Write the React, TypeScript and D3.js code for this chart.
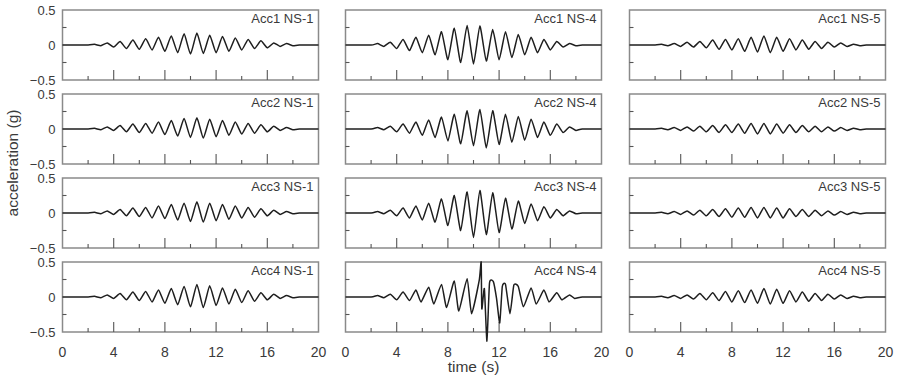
import React, { useEffect, useRef } from "react";
import * as d3 from "d3";

// shared sample times (s): flat start, peak / trough every half second, flat end
const TIME = [
  0, 2, 2.5, 3, 3.5, 4, 4.5, 5, 5.5, 6, 6.5, 7, 7.5, 8, 8.5, 9, 9.5, 10, 10.5,
  11, 11.5, 12, 12.5, 13, 13.5, 14, 14.5, 15, 15.5, 16, 16.5, 17, 17.5, 18,
  18.5, 20,
];

const acc1Ns1 = [0, 0, 0.01, -0.01, 0.03, -0.03, 0.05, -0.05, 0.07, -0.06, 0.09, -0.07, 0.11, -0.09, 0.13, -0.11, 0.16, -0.13, 0.17, -0.12, 0.14, -0.11, 0.12, -0.09, 0.1, -0.07, 0.08, -0.05, 0.06, -0.04, 0.03, -0.02, 0.02, -0.01, 0, 0];
const acc2Ns1 = [0, 0, 0.01, -0.01, 0.03, -0.02, 0.05, -0.04, 0.07, -0.05, 0.08, -0.06, 0.1, -0.08, 0.12, -0.1, 0.15, -0.12, 0.16, -0.13, 0.14, -0.11, 0.12, -0.09, 0.1, -0.07, 0.08, -0.06, 0.06, -0.04, 0.04, -0.02, 0.02, -0.01, 0, 0];
const acc3Ns1 = [0, 0, 0.01, -0.01, 0.03, -0.02, 0.05, -0.04, 0.07, -0.05, 0.08, -0.07, 0.1, -0.08, 0.12, -0.1, 0.14, -0.12, 0.16, -0.13, 0.14, -0.11, 0.12, -0.09, 0.1, -0.07, 0.08, -0.06, 0.06, -0.04, 0.04, -0.02, 0.02, -0.01, 0, 0];
const acc4Ns1 = [0, 0, 0.01, -0.01, 0.03, -0.02, 0.05, -0.04, 0.07, -0.05, 0.08, -0.07, 0.1, -0.09, 0.12, -0.11, 0.15, -0.14, 0.18, -0.15, 0.16, -0.12, 0.13, -0.1, 0.11, -0.08, 0.09, -0.06, 0.06, -0.04, 0.04, -0.02, 0.02, -0.01, 0, 0];

const acc1Ns4 = [0, 0, 0.02, -0.02, 0.04, -0.05, 0.08, -0.08, 0.11, -0.11, 0.14, -0.14, 0.19, -0.21, 0.24, -0.25, 0.28, -0.27, 0.27, -0.23, 0.22, -0.21, 0.19, -0.18, 0.15, -0.14, 0.11, -0.11, 0.08, -0.07, 0.05, -0.03, 0.02, -0.01, 0, 0];
const acc2Ns4 = [0, 0, 0.02, -0.01, 0.04, -0.04, 0.07, -0.06, 0.1, -0.09, 0.13, -0.12, 0.17, -0.17, 0.21, -0.21, 0.26, -0.24, 0.28, -0.27, 0.26, -0.22, 0.21, -0.19, 0.18, -0.16, 0.14, -0.12, 0.1, -0.09, 0.07, -0.05, 0.03, -0.02, 0, 0];
const acc3Ns4 = [0, 0, 0.02, -0.01, 0.04, -0.04, 0.07, -0.07, 0.1, -0.1, 0.14, -0.13, 0.2, -0.18, 0.25, -0.25, 0.3, -0.35, 0.32, -0.31, 0.29, -0.28, 0.21, -0.23, 0.17, -0.15, 0.13, -0.11, 0.09, -0.07, 0.05, -0.04, 0.03, -0.01, 0, 0];

// Acc4 NS-4 has its own sampling: saw-tooth drops and the two spikes near 11 s
const acc4Ns4Time = [0, 2, 2.5, 3, 3.5, 4, 4.5, 5, 5.5, 5.9, 6.5, 6.9, 7.5, 7.9, 8.5, 8.85, 9.5, 9.85, 10.45, 10.6, 10.65, 10.85, 11.05, 11.25, 11.55, 11.8, 12.05, 12.25, 12.5, 12.85, 13.15, 13.5, 13.9, 14.5, 14.9, 15.5, 15.9, 16.5, 16.9, 17.5, 17.9, 18.5, 20];
const acc4Ns4 = [0, 0, 0.02, -0.01, 0.04, -0.04, 0.07, -0.05, 0.1, -0.07, 0.14, -0.1, 0.18, -0.15, 0.23, -0.2, 0.26, -0.24, 0.24, 0.5, -0.17, 0.12, -0.63, 0.2, 0.22, -0.02, -0.37, 0.15, 0.18, -0.24, 0.17, 0.15, -0.14, 0.13, -0.1, 0.1, -0.07, 0.06, -0.04, 0.03, -0.02, 0, 0];

const acc1Ns5 = [0, 0, 0.01, -0.01, 0.02, -0.02, 0.04, -0.03, 0.05, -0.04, 0.07, -0.06, 0.08, -0.07, 0.09, -0.09, 0.11, -0.1, 0.13, -0.11, 0.11, -0.09, 0.09, -0.07, 0.07, -0.06, 0.05, -0.05, 0.04, -0.03, 0.03, -0.02, 0.01, -0.01, 0, 0];
const acc2Ns5 = [0, 0, 0.01, -0.01, 0.02, -0.02, 0.03, -0.03, 0.04, -0.04, 0.05, -0.05, 0.06, -0.05, 0.07, -0.06, 0.08, -0.07, 0.08, -0.07, 0.07, -0.06, 0.06, -0.05, 0.05, -0.04, 0.04, -0.04, 0.03, -0.03, 0.02, -0.02, 0.01, -0.01, 0, 0];
const acc3Ns5 = [0, 0, 0.01, -0.01, 0.02, -0.02, 0.03, -0.03, 0.04, -0.04, 0.05, -0.05, 0.06, -0.06, 0.07, -0.06, 0.08, -0.07, 0.08, -0.07, 0.07, -0.07, 0.06, -0.05, 0.05, -0.05, 0.04, -0.04, 0.03, -0.03, 0.02, -0.02, 0.01, -0.01, 0, 0];
const acc4Ns5 = [0, 0, 0.01, -0.01, 0.02, -0.02, 0.03, -0.03, 0.05, -0.04, 0.06, -0.05, 0.08, -0.07, 0.09, -0.08, 0.1, -0.09, 0.12, -0.1, 0.11, -0.09, 0.09, -0.07, 0.07, -0.06, 0.05, -0.05, 0.04, -0.03, 0.03, -0.02, 0.01, -0.01, 0, 0];

const columns = ["NS-1", "NS-4", "NS-5"];
const rows = ["Acc1", "Acc2", "Acc3", "Acc4"];
const xTicks = [0, 4, 8, 12, 16, 20];
const yTicks = [0.5, 0, -0.5];

const panels = [
  [acc1Ns1, acc1Ns4, acc1Ns5],
  [acc2Ns1, acc2Ns4, acc2Ns5],
  [acc3Ns1, acc3Ns4, acc3Ns5],
  [acc4Ns1, acc4Ns4, acc4Ns5],
];

const App = () => {
  const ref = useRef(null);

  useEffect(() => {
    const svg = d3.select(ref.current);
    svg.selectAll("*").remove();

    const colLeft = [62.5, 345.5, 629.5];
    const panelW = 256;
    const top0 = 10;
    const panelH = 70;
    const rowStep = 84;
    const frameColor = "#8a8a8a";
    const textColor = "#3a3a3a";
    const font = "Liberation Sans, Arial, sans-serif";

    rows.forEach((rowName, r) => {
      columns.forEach((colName, c) => {
        const left = colLeft[c];
        const top = top0 + r * rowStep;
        const x = d3.scaleLinear().domain([0, 20]).range([left, left + panelW]);
        const y = d3.scaleLinear().domain([-0.5, 0.5]).range([top + panelH, top]);
        const g = svg.append("g");

        // frame
        g.append("rect")
          .attr("x", left)
          .attr("y", top)
          .attr("width", panelW)
          .attr("height", panelH)
          .attr("fill", "none")
          .attr("stroke", frameColor)
          .attr("stroke-width", 1.5);

        // inward ticks along the bottom
        d3.range(2, 20, 2).forEach((t) => {
          const len = t % 4 === 0 ? 10 : 4;
          g.append("line")
            .attr("x1", x(t))
            .attr("x2", x(t))
            .attr("y1", top + panelH)
            .attr("y2", top + panelH - len)
            .attr("stroke", "#555")
            .attr("stroke-width", 1.1);
        });
        // inward ticks on the left
        [0.25, -0.25].forEach((v) => {
          g.append("line")
            .attr("x1", left)
            .attr("x2", left + 4)
            .attr("y1", y(v))
            .attr("y2", y(v))
            .attr("stroke", "#555")
            .attr("stroke-width", 1.1);
        });

        const values = panels[r][c];
        const times = r === 3 && c === 1 ? acc4Ns4Time : TIME;
        const line = d3
          .line()
          .x((d) => x(d[0]))
          .y((d) => y(d[1]))
          .curve(d3.curveCardinal.tension(0.5));

        g.append("path")
          .datum(times.map((t, i) => [t, values[i]]))
          .attr("fill", "none")
          .attr("stroke", "#1e1e1e")
          .attr("stroke-width", 1.5)
          .attr("stroke-linejoin", "round")
          .attr("d", line);

        g.append("text")
          .attr("x", left + panelW - 5)
          .attr("y", top + 13)
          .attr("text-anchor", "end")
          .style("font-family", font)
          .style("font-size", "13px")
          .attr("fill", textColor)
          .text(`${rowName} ${colName}`);

        if (c === 0) {
          yTicks.forEach((v) => {
            g.append("text")
              .attr("x", left - 7)
              .attr("y", y(v))
              .attr("dy", "0.35em")
              .attr("text-anchor", "end")
              .style("font-family", font)
              .style("font-size", "13px")
              .attr("fill", textColor)
              .text(v === 0 ? "0" : d3.format(".1f")(v));
          });
        }

        if (r === rows.length - 1) {
          xTicks.forEach((t) => {
            g.append("text")
              .attr("x", x(t))
              .attr("y", top + panelH + 20)
              .attr("dy", "0.35em")
              .attr("text-anchor", "middle")
              .style("font-family", font)
              .style("font-size", "14px")
              .attr("fill", textColor)
              .text(t);
          });
        }
      });
    });

    svg
      .append("text")
      .attr("x", colLeft[1] + panelW / 2)
      .attr("y", 367)
      .attr("dy", "0.35em")
      .attr("text-anchor", "middle")
      .style("font-family", font)
      .style("font-size", "15.5px")
      .attr("fill", textColor)
      .text("time (s)");

    svg
      .append("text")
      .attr("transform", `translate(13, 163) rotate(-90)`)
      .attr("dy", "0.35em")
      .attr("text-anchor", "middle")
      .style("font-family", font)
      .style("font-size", "15.5px")
      .attr("fill", textColor)
      .text("acceleration (g)");
  }, []);

  return (
    <svg
      ref={ref}
      width={898}
      height={379}
      style={{ position: "absolute", left: 0, top: 0, background: "#fff" }}
    />
  );
};

export default App;
